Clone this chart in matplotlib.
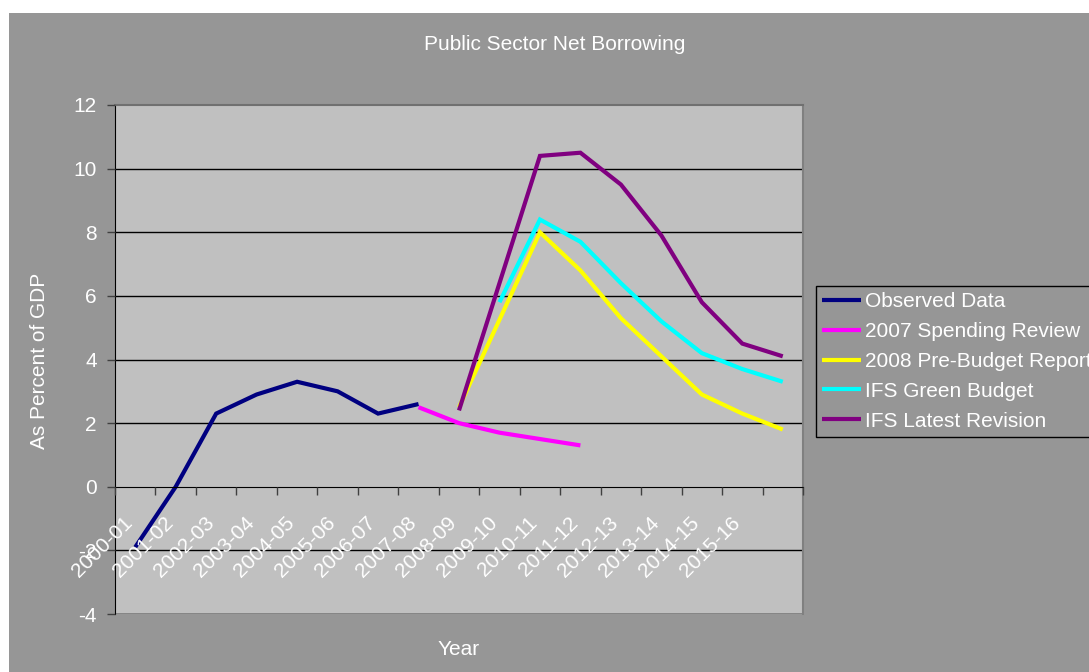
import matplotlib
matplotlib.use("Agg")
import matplotlib.pyplot as plt
from matplotlib.patches import Rectangle
from matplotlib.transforms import ScaledTranslation

plt.rcParams['font.family'] = ['Liberation Sans', 'DejaVu Sans']

# financial years on the category axis (last category has no label)
years = ['2000-01', '2001-02', '2002-03', '2003-04', '2004-05', '2005-06',
         '2006-07', '2007-08', '2008-09', '2009-10', '2010-11', '2011-12',
         '2012-13', '2013-14', '2014-15', '2015-16', '']

# series: (first category index, values)
observed_start = 0
observed = [-1.9, 0.0, 2.3, 2.9, 3.3, 3.0, 2.3, 2.6]
review_start = 7
spending_review = [2.5, 2.0, 1.7, 1.5, 1.3]
pbr_start = 8
pre_budget = [2.5, 5.25, 8.0, 6.8, 5.3, 4.1, 2.9, 2.3, 1.8]
green_start = 9
green_budget = [5.8, 8.4, 7.7, 6.4, 5.2, 4.2, 3.7, 3.3]
latest_start = 8
latest_revision = [2.4, 6.4, 10.4, 10.5, 9.5, 7.9, 5.8, 4.5, 4.1]

yticks = [-4, -2, 0, 2, 4, 6, 8, 10, 12]

chart_grey = '#969696'
plot_grey = '#C0C0C0'

W, H = 1089, 672
fig = plt.figure(figsize=(W / 100, H / 100), dpi=100)
fig.patch.set_facecolor('white')
fig.add_artist(Rectangle((9 / W, 0), 1, 1 - 13 / H, transform=fig.transFigure,
                         facecolor=chart_grey, edgecolor='none', zorder=0))

ax = fig.add_axes([115 / W, 1 - 614 / H, 688 / W, 509 / H])
ax.set_facecolor(plot_grey)
ax.set_axisbelow(False)

series = [
    (observed_start, observed, '#000080', 'Observed Data'),
    (review_start, spending_review, '#FF00FF', '2007 Spending Review'),
    (pbr_start, pre_budget, '#FFFF00', '2008 Pre-Budget Report'),
    (green_start, green_budget, '#00FFFF', 'IFS Green Budget'),
    (latest_start, latest_revision, '#800080', 'IFS Latest Revision'),
]
for start, vals, col, name in series:
    xs = list(range(start, start + len(vals)))
    ax.plot(xs, vals, color=col, lw=3, label=name, zorder=2,
            solid_capstyle='butt', solid_joinstyle='miter')

# horizontal gridlines under the data
ax.hlines([t for t in yticks if t not in (0, 12, -4)], -0.5, len(years) - 0.5,
          colors='black', lw=1, zorder=1)
ax.hlines([-4], -0.5, len(years) - 0.5, colors='#808080', lw=2, zorder=1)

ax.set_xlim(-0.5, len(years) - 0.5)
ax.set_ylim(-4, 12)
ax.set_yticks(yticks)
ax.set_yticklabels([str(t) for t in yticks])

# category axis crossing at zero, ticks between categories
ax.spines['bottom'].set_position(('data', 0))
ax.spines['bottom'].set_color('black')
ax.spines['left'].set_color('black')
ax.spines['top'].set_color('#707070')
ax.spines['top'].set_linewidth(1.5)
ax.spines['right'].set_color('#808080')
ax.spines['right'].set_linewidth(1.5)

ax.set_xticks(range(len(years)))
ax.set_xticklabels(years, rotation=45, ha='right', va='top',
                   rotation_mode='anchor')
ax.set_xticks([i - 0.5 for i in range(len(years) + 1)], minor=True)
ax.tick_params(axis='x', which='major', length=0, pad=19, labelsize=15,
               labelcolor='white')
ax.tick_params(axis='x', which='minor', length=6, width=1, direction='out',
               color='#404040')
ax.tick_params(axis='y', length=6, width=1, direction='out', pad=7,
               labelsize=15, labelcolor='white', color='#404040')
shift = ScaledTranslation(-0.12, 0, fig.dpi_scale_trans)
for lbl in ax.get_xticklabels():
    lbl.set_transform(lbl.get_transform() + shift)

ax.set_xlabel('Year', fontsize=15, color='white', va='center')
ax.xaxis.set_label_coords(0.5, -0.069)
ax.set_ylabel('As Percent of GDP', fontsize=15, color='white', va='center')
ax.yaxis.set_label_coords(-0.11, 0.497)

fig.text(555 / W, 1 - 45 / H, 'Public Sector Net Borrowing', fontsize=15,
         color='white', ha='center', va='center')

leg = ax.legend(loc='upper left', bbox_to_anchor=(816 / W, 1 - 286 / H),
                bbox_transform=fig.transFigure, fontsize=15, frameon=True,
                fancybox=False, facecolor=chart_grey, edgecolor='black',
                framealpha=1, borderpad=0.3, borderaxespad=0,
                handlelength=1.85, handletextpad=0.2, labelspacing=0.52,
                labelcolor='white')
leg.get_frame().set_linewidth(1)
for h in leg.get_lines():
    h.set_linewidth(3)

fig.savefig('out.png', dpi=100, facecolor=fig.get_facecolor())
